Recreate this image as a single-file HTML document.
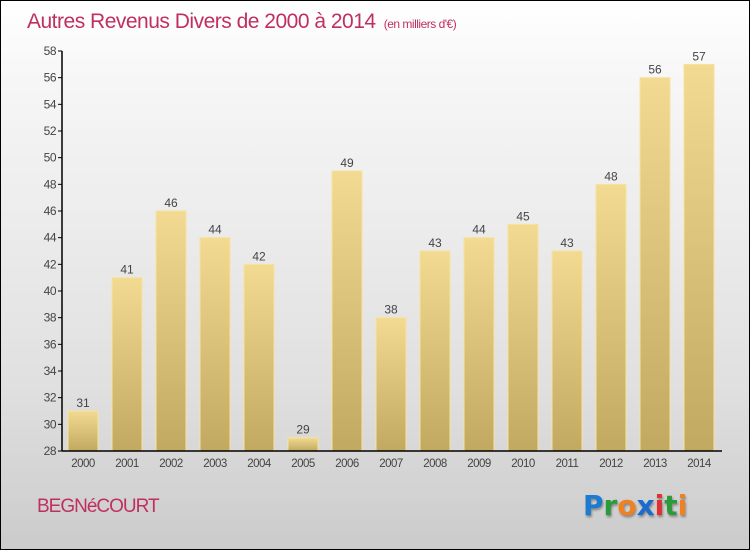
<!DOCTYPE html>
<html><head><meta charset="utf-8"><style>
body{margin:0}
#c{position:relative;width:748px;height:548px;border:1px solid #000;background:linear-gradient(#fff,#f6f6f6 15%,#e0e0e0 70%,#cbcbcb);font-family:"Liberation Sans",sans-serif;overflow:hidden}
.t{position:absolute;color:#c0305f}
</style></head><body>
<div id="c">
<div class="t" style="left:26px;top:9px;font-size:21px;letter-spacing:-0.5px">Autres Revenus Divers de 2000 à 2014 <span style="font-size:12px">&nbsp;(en milliers d'€)</span></div>
<svg id="s" width="748" height="548" style="position:absolute;left:0;top:0">
<defs><linearGradient id="g" x1="0" y1="0" x2="0" y2="1"><stop offset="0" stop-color="#f3da92"/><stop offset="1" stop-color="#c1a961"/></linearGradient></defs>
</svg>
<div class="t" style="left:36px;top:495px;font-size:19px;letter-spacing:-1px">BEGNéCOURT</div>
<div style="position:absolute;left:582px;top:488px;font-size:28px;font-weight:bold;font-family:'DejaVu Sans',sans-serif;text-shadow:1px 2px 2px #888"><span style="color:#1a7bd0">P</span><span style="color:#2a9a3a">r</span><span style="color:#f08020">o</span><span style="color:#1a6ad0">x</span><span style="color:#e03030">i</span><span style="color:#2a9a3a">t</span><span style="color:#f08020">i</span></div>
</div>
<script>
const categories=["2000","2001","2002","2003","2004","2005","2006","2007","2008","2009","2010","2011","2012","2013","2014"];
const values=[31,41,46,44,42,29,49,38,43,44,45,43,48,56,57];
const yTicks=[28,30,32,34,36,38,40,42,44,46,48,50,52,54,56,58];
const s=document.getElementById('s'),NS='http://www.w3.org/2000/svg';
const y=v=>450-(v-28)*400/30, x=i=>82+i*44;
function el(t,a,txt){const e=document.createElementNS(NS,t);for(const k in a)e.setAttribute(k,a[k]);if(txt!=null)e.textContent=txt;s.appendChild(e);return e;}
yTicks.forEach(v=>{
 const l=el('line',{x1:57,x2:61,y1:y(v),y2:y(v),stroke:'#000'});
 
 
 const t=el('text',{x:55,y:y(v)+4,'text-anchor':'end','font-size':12,fill:'#444','letter-spacing':'-0.5'},v);
 
 
});
categories.forEach((c,i)=>{
 const b=el('rect',{x:x(i)-15,y:y(values[i]),width:30,height:450-y(values[i]),fill:'url(#g)',stroke:'#f6e39e','stroke-width':1});
 
 
 const v=el('text',{x:x(i),y:y(values[i])-4,'text-anchor':'middle','font-size':12,fill:'#444'},values[i]);
 
 
 const t=el('text',{x:x(i),y:466,'text-anchor':'middle','font-size':11.5,fill:'#444','letter-spacing':'-0.5'},c);
 
 
});
const ya=el('line',{x1:61,x2:61,y1:50,y2:450,stroke:'#000','stroke-width':1.5});


const xa=el('line',{x1:61,x2:721,y1:450,y2:450,stroke:'#000','stroke-width':1.5});


</script>
</body></html>
